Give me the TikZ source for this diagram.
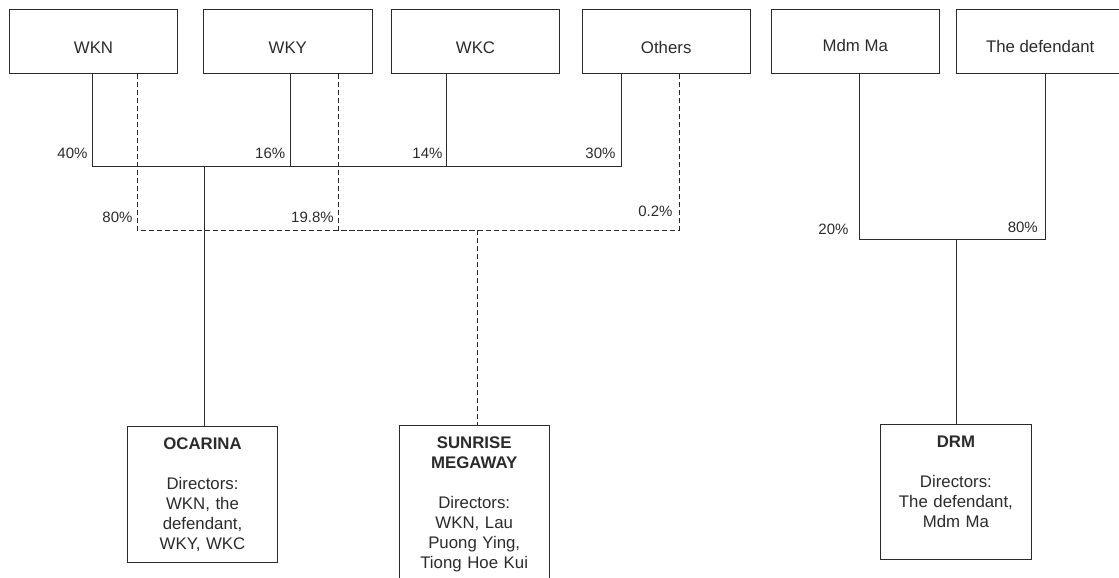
\documentclass[tikz,border=0pt]{standalone}
\usepackage{fontspec}
\setmainfont{Liberation Sans}
\definecolor{ink}{HTML}{2B2B2B}
\tikzset{
  holder/.style={draw=ink, line width=1pt, minimum width=168.4pt, minimum height=63.7pt,
    inner sep=0pt, text height=24pt, text depth=0pt, text=ink, font=\fontsize{16.8}{20}\selectfont},
  company/.style={draw=ink, line width=1pt, anchor=north, align=center, text width=140pt,
    inner xsep=5pt, inner ysep=0pt, minimum width=150.3pt, text height=23pt, text=ink,
    font=\fontsize{16.8}{20}\selectfont},
  pct/.style={anchor=south east, inner xsep=5pt, inner ysep=7.5pt, text depth=0pt, text=ink,
    font=\fontsize{15}{18}\selectfont},
  stake/.style={draw=ink, line width=1pt},
  sunstake/.style={stake, dash pattern=on 5pt off 3pt}
}
\begin{document}
\begin{tikzpicture}[x=1pt,y=-1pt]
\useasboundingbox (0,0) rectangle (1119,578);

% shareholders
\node[holder] (wkn) at (93.5,41.2) {WKN};
\node[holder] (wky) at (287.8,41.2) {WKY};
\node[holder] (wkc) at (475.5,41.2) {WKC};
\node[holder] (others) at (666.2,41.2) {Others};
\node[holder, text height=20pt] (mdmma) at (855.3,41.2) {Mdm Ma};
\node[holder, text height=23pt] (defendant) at (1040.2,41.2) {The defendant};

% companies
\node[company, minimum height=136pt, text depth=113pt] (ocarina) at (202.5,426)
  {\textbf{OCARINA}\\[20pt]Directors:\\WKN, the\\defendant,\\WKY, WKC};
\node[company, minimum height=155pt, text depth=132pt] (sunrise) at (474.2,425)
  {\textbf{SUNRISE}\\\textbf{MEGAWAY}\\[20pt]Directors:\\WKN, Lau\\Puong Ying,\\Tiong Hoe Kui};
\node[company, minimum height=135pt, text depth=112pt] (drm) at (955.9,424)
  {\textbf{DRM}\\[20pt]Directors:\\The defendant,\\Mdm Ma};

\coordinate (ocjoin) at (204.5,166);
\coordinate (sunjoin) at (477,230);
\coordinate (drmjoin) at (956,239.3);

% OCARINA
\draw[stake] ([xshift=-0.8pt]wkn.south) |- (ocjoin) node[pct, pos=0.5, inner xsep=4.7pt] {40\%};
\draw[stake] ([xshift=2.9pt]wky.south) |- (ocjoin) node[pct, pos=0.5] {16\%};
\draw[stake] ([xshift=-29.5pt]wkc.south) |- (ocjoin) node[pct, pos=0.5, inner xsep=3pt] {14\%};
\draw[stake] ([xshift=-44.5pt]others.south) |- (ocjoin) node[pct, pos=0.5, inner xsep=5.7pt] {30\%};
\draw[stake] (ocjoin) -- (ocjoin |- ocarina.north);

% SUNRISE MEGAWAY
\draw[sunstake] ([xshift=43.8pt]wkn.south) |- (sunjoin) node[pct, pos=0.5, inner xsep=4.3pt] {80\%};
\draw[sunstake] ([xshift=50.4pt]wky.south) |- (sunjoin) node[pct, pos=0.5, inner xsep=4pt] {19.8\%};
\draw[sunstake] ([xshift=12.8pt]others.south) |- (sunjoin) node[pct, pos=0.5, inner xsep=6pt, inner ysep=13pt] {0.2\%};
\draw[sunstake] (sunjoin) -- (sunjoin |- sunrise.north);

% DRM
\draw[stake] ([xshift=3.7pt]mdmma.south) |- (drmjoin) node[pct, pos=0.5, inner xsep=10pt, inner ysep=4pt] {20\%};
\draw[stake] ([xshift=5.1pt]defendant.south) |- (drmjoin) node[pct, pos=0.5, inner xsep=7pt, inner ysep=6.6pt] {80\%};
\draw[stake] (drmjoin) -- (drmjoin |- drm.north);
\end{tikzpicture}
\end{document}
